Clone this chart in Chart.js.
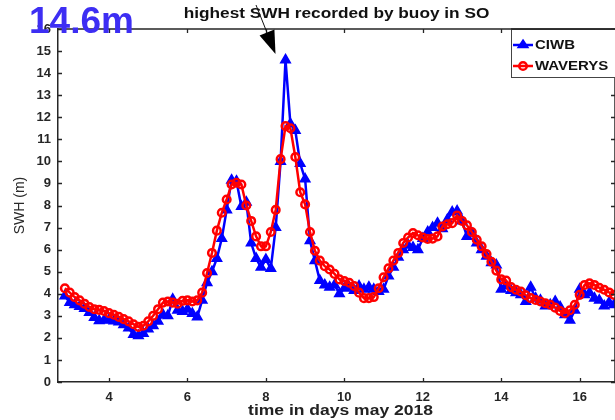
<!DOCTYPE html>
<html>
<head>
<meta charset="utf-8">
<script src="https://cdn.jsdelivr.net/npm/chart.js@4/dist/chart.umd.min.js"></script>
<style>
  html, body { margin: 0; padding: 0; background: #fff; overflow: hidden; width: 615px; height: 420px; }
  #wrap { width: 622px; height: 420px; }
</style>
</head>
<body>
<div id="wrap"><canvas id="swh" width="622" height="420"></canvas></div>
<script>
// Time axis: days of May 2018, 3-hourly samples
const days = [
  2.875,
  3, 3.125, 3.25, 3.375, 3.5, 3.625, 3.75, 3.875,
  4, 4.125, 4.25, 4.375, 4.5, 4.625, 4.75, 4.875,
  5, 5.125, 5.25, 5.375, 5.5, 5.625, 5.75, 5.875,
  6, 6.125, 6.25, 6.375, 6.5, 6.625, 6.75, 6.875,
  7, 7.125, 7.25, 7.375, 7.5, 7.625, 7.75, 7.875,
  8, 8.125, 8.25, 8.375, 8.5, 8.625, 8.75, 8.875,
  9, 9.125, 9.25, 9.375, 9.5, 9.625, 9.75, 9.875,
  10, 10.125, 10.25, 10.375, 10.5, 10.625, 10.75, 10.875,
  11, 11.125, 11.25, 11.375, 11.5, 11.625, 11.75, 11.875,
  12, 12.125, 12.25, 12.375, 12.5, 12.625, 12.75, 12.875,
  13, 13.125, 13.25, 13.375, 13.5, 13.625, 13.75, 13.875,
  14, 14.125, 14.25, 14.375, 14.5, 14.625, 14.75, 14.875,
  15, 15.125, 15.25, 15.375, 15.5, 15.625, 15.75, 15.875,
  16, 16.125, 16.25, 16.375, 16.5, 16.625, 16.75, 16.875
];

// Significant wave height (m), buoy CIWB
const ciwb = [
  3.9, 3.6, 3.5, 3.42, 3.33, 3.15, 2.92, 2.78, 2.8, 2.82,
  2.76, 2.72, 2.6, 2.45, 2.15, 2.1, 2.2, 2.4, 2.55, 2.75,
  3.05, 3.0, 3.75, 3.25, 3.2, 3.3, 3.1, 2.95, 3.7, 4.5,
  5.0, 5.6, 6.5, 7.8, 9.15, 9.1, 7.95, 8.15, 6.3, 5.6,
  5.2, 5.55, 5.15, 7.0, 10.0, 14.6, 11.7, 11.4, 9.9, 9.2,
  6.4, 5.5, 4.6, 4.4, 4.3, 4.4, 4.0, 4.25, 4.3, 4.15,
  4.35, 4.2, 4.3, 4.2, 4.1, 4.2, 4.8, 5.2, 5.65, 6.0,
  6.2, 6.1, 6.0, 6.5, 6.8, 7.0, 7.2, 6.95, 7.35, 7.7,
  7.75, 7.3, 6.6, 6.75, 6.3, 6.0, 5.7, 5.4, 5.3, 4.2,
  4.35, 4.15, 4.05, 3.95, 3.65, 4.3, 3.8, 3.7, 3.45, 3.5,
  3.65, 3.4, 3.05, 2.8, 3.25, 4.2, 3.95, 4.05, 3.8, 3.7,
  3.45, 3.6, 3.5
];

// Significant wave height (m), WAVERYS reanalysis
const waverys = [
  4.25, 4.05, 3.85, 3.7, 3.55, 3.4, 3.3, 3.27, 3.22, 3.12,
  3.05, 2.95, 2.85, 2.75, 2.62, 2.5, 2.55, 2.75, 3.0, 3.3,
  3.6, 3.65, 3.6, 3.55, 3.68, 3.7, 3.65, 3.7, 4.05, 4.94,
  5.85, 6.86, 7.67, 8.27, 8.95, 9.03, 8.95, 8.0, 7.3, 6.6,
  6.15, 6.15, 6.8, 7.8, 10.1, 11.6, 11.5, 10.2, 8.6, 8.05,
  6.8, 5.95, 5.5, 5.25, 5.1, 4.9, 4.65, 4.58, 4.5, 4.35,
  4.05, 3.8, 3.8, 3.85, 4.25, 4.75, 5.15, 5.5, 5.85, 6.3,
  6.55, 6.75, 6.65, 6.55, 6.48, 6.5, 6.6, 7.05, 7.15, 7.2,
  7.55, 7.3, 7.1, 6.8, 6.45, 6.15, 5.8, 5.45, 5.05, 4.65,
  4.6, 4.3, 4.18, 4.1, 3.93, 3.8, 3.72, 3.65, 3.57, 3.5,
  3.37, 3.22, 3.12, 3.25, 3.5, 3.95, 4.4, 4.47, 4.4, 4.27,
  4.18, 4.06, 3.95
];

const dayTicks = [4, 6, 8, 10, 12, 14, 16];
const swhTicks = [0, 1, 2, 3, 4, 5, 6, 7, 8, 9, 10, 11, 12, 13, 14, 15, 16];
const seriesNames = ['CIWB', 'WAVERYS'];
const plotTitle = 'highest SWH recorded by buoy in SO';
const xTitle = 'time in days may 2018';
const yTitle = 'SWH (m)';

const AXIS = '#262626';
const BLUE = '#0000ff';
const RED = '#ff0000';
const FONT = '"Liberation Sans", Arial, Helvetica, sans-serif';

function stretchedText(ctx, txt, x, y, font, color, align, sx, baseline) {
  ctx.save();
  ctx.font = font;
  ctx.fillStyle = color;
  ctx.textAlign = align;
  ctx.textBaseline = baseline || 'middle';
  ctx.translate(x, y);
  ctx.scale(sx, 1);
  ctx.fillText(txt, 0, 0);
  ctx.restore();
}

function triangleMark(ctx, cx, cy, r, color) {
  const h = r * 1.5;
  const half = r * Math.sqrt(3) / 2 * 1.15;
  ctx.beginPath();
  ctx.moveTo(cx, cy - r);
  ctx.lineTo(cx + half, cy - r + h);
  ctx.lineTo(cx - half, cy - r + h);
  ctx.closePath();
  ctx.fillStyle = color;
  ctx.strokeStyle = color;
  ctx.lineWidth = 1.5;
  ctx.fill();
  ctx.stroke();
}

function circleMark(ctx, cx, cy, r, color) {
  ctx.beginPath();
  ctx.arc(cx, cy, r, 0, Math.PI * 2);
  ctx.strokeStyle = color;
  ctx.lineWidth = 2.5;
  ctx.stroke();
}

// Box frame, inward ticks, legend, title and annotation
const decorations = {
  id: 'decorations',
  afterDraw(chart) {
    const { ctx, chartArea: a, scales } = chart;
    const xs = scales.x, ys = scales.y;
    ctx.save();

    // top and right edges of the axes box
    ctx.strokeStyle = AXIS;
    ctx.lineWidth = 1.5;
    ctx.beginPath();
    ctx.moveTo(a.left, a.top);
    ctx.lineTo(a.right, a.top);
    ctx.lineTo(a.right, a.bottom);
    ctx.stroke();

    // inward tick marks on all four sides
    ctx.lineWidth = 1.3;
    const tl = 4;
    ctx.beginPath();
    dayTicks.forEach(v => {
      const px = Math.round(xs.getPixelForValue(v)) + 0.5;
      ctx.moveTo(px, a.bottom); ctx.lineTo(px, a.bottom - tl);
      ctx.moveTo(px, a.top); ctx.lineTo(px, a.top + tl);
    });
    swhTicks.forEach(v => {
      const py = Math.round(ys.getPixelForValue(v)) + 0.5;
      ctx.moveTo(a.left, py); ctx.lineTo(a.left + tl, py);
      ctx.moveTo(a.right, py); ctx.lineTo(a.right - tl, py);
    });
    ctx.stroke();

    // legend box in the upper right corner
    const lx = 511, ly = a.top, lw = 130, lh = 48;
    ctx.fillStyle = '#ffffff';
    ctx.fillRect(lx, ly, lw, lh);
    ctx.strokeStyle = '#444';
    ctx.lineWidth = 1;
    ctx.strokeRect(lx + 0.5, ly + 0.5, lw, lh);
    ctx.strokeStyle = AXIS;
    ctx.lineWidth = 1.5;
    ctx.beginPath();
    ctx.moveTo(lx, a.top); ctx.lineTo(lx + lw, a.top);
    ctx.stroke();

    const rows = [
      { name: seriesNames[0], color: BLUE, y: ly + 16, mark: 'tri' },
      { name: seriesNames[1], color: RED, y: ly + 37, mark: 'circ' }
    ];
    rows.forEach(r => {
      ctx.strokeStyle = r.color;
      ctx.lineWidth = 2.5;
      ctx.beginPath();
      ctx.moveTo(lx + 2, r.y); ctx.lineTo(lx + 22, r.y);
      ctx.stroke();
      if (r.mark === 'tri') triangleMark(ctx, lx + 12, r.y, 5, r.color);
      else circleMark(ctx, lx + 12, r.y, 3.8, r.color);
      stretchedText(ctx, r.name, lx + 24, r.y + 1, 'bold 12px ' + FONT, '#111', 'left', 1.25);
    });

    // title
    const cx = (a.left + a.right) / 2;
    stretchedText(ctx, plotTitle, cx, 14, 'bold 15px ' + FONT, '#111', 'center', 1.15);

    // axis titles
    stretchedText(ctx, xTitle, cx + 4, 411, 'bold 14px ' + FONT, '#222', 'center', 1.25);
    ctx.save();
    ctx.translate(20, (a.top + a.bottom) / 2);
    ctx.rotate(-Math.PI / 2);
    ctx.font = '14px ' + FONT;
    ctx.fillStyle = '#2a2a2a';
    ctx.textAlign = 'center';
    ctx.textBaseline = 'middle';
    ctx.fillText(yTitle, 0, 0);
    ctx.restore();

    // arrow to the highest buoy reading
    let peakIdx = 0;
    ciwb.forEach((v, i) => { if (v > ciwb[peakIdx]) peakIdx = i; });
    const peakVal = ciwb[peakIdx];
    const px = xs.getPixelForValue(days[peakIdx]);
    const py = ys.getPixelForValue(peakVal);
    const tip = { x: px - 10, y: py - 6 };
    const tail = { x: 256, y: 5 };
    const dx = tip.x - tail.x, dy = tip.y - tail.y;
    const len = Math.hypot(dx, dy);
    const ux = dx / len, uy = dy / len;
    const headLen = 23, headHalf = 8;
    const bx = tip.x - ux * headLen, by = tip.y - uy * headLen;
    ctx.strokeStyle = '#111';
    ctx.lineWidth = 1;
    ctx.beginPath();
    ctx.moveTo(tail.x, tail.y); ctx.lineTo(bx, by);
    ctx.stroke();
    ctx.fillStyle = '#000';
    ctx.beginPath();
    ctx.moveTo(tip.x, tip.y);
    ctx.lineTo(bx - uy * headHalf, by + ux * headHalf);
    ctx.lineTo(bx + uy * headHalf, by - ux * headHalf);
    ctx.closePath();
    ctx.fill();

    // peak value label
    ctx.font = 'bold 37px ' + FONT;
    ctx.fillStyle = '#3d2ef3';
    ctx.textAlign = 'left';
    ctx.textBaseline = 'alphabetic';
    ctx.fillText(peakVal.toFixed(1) + 'm', 29, 33);

    ctx.restore();
  }
};

const toPoints = vals => days.map((d, i) => ({ x: d, y: vals[i] }));

new Chart(document.getElementById('swh'), {
  type: 'line',
  data: {
    datasets: [
      {
        label: seriesNames[0],
        data: toPoints(ciwb),
        borderColor: BLUE,
        backgroundColor: BLUE,
        borderWidth: 2.5,
        pointStyle: 'triangle',
        pointRadius: 5.5,
        pointBorderWidth: 1.5,
        pointBackgroundColor: BLUE,
        pointBorderColor: BLUE,
        tension: 0,
        order: 2
      },
      {
        label: seriesNames[1],
        data: toPoints(waverys),
        borderColor: RED,
        backgroundColor: RED,
        borderWidth: 2.5,
        pointStyle: 'circle',
        pointRadius: 3.8,
        pointBorderWidth: 2.5,
        pointBackgroundColor: 'rgba(255,255,255,0)',
        pointBorderColor: RED,
        tension: 0,
        order: 1
      }
    ]
  },
  options: {
    responsive: false,
    animation: false,
    devicePixelRatio: 1,
    layout: { padding: { top: 29, right: 5, left: 0, bottom: 0 } },
    plugins: { legend: { display: false }, tooltip: { enabled: false }, title: { display: false } },
    scales: {
      x: {
        type: 'linear',
        min: 2.7,
        max: 16.9,
        afterBuildTicks: s => { s.ticks = dayTicks.map(v => ({ value: v })); },
        afterFit: s => { s.height = 38; },
        grid: { display: false, drawTicks: false },
        border: { display: true, color: AXIS, width: 1.5 },
        ticks: { padding: 8, color: AXIS, font: { family: FONT, size: 13, weight: 'bold' }, maxRotation: 0 }
      },
      y: {
        type: 'linear',
        min: 0,
        max: 16,
        afterBuildTicks: s => { s.ticks = swhTicks.map(v => ({ value: v })); },
        afterFit: s => { s.width = 58; },
        grid: { display: false, drawTicks: false },
        border: { display: true, color: AXIS, width: 1.5 },
        ticks: { padding: 7, color: AXIS, font: { family: FONT, size: 13, weight: 'bold' } }
      }
    }
  },
  plugins: [decorations]
});
</script>
</body>
</html>
